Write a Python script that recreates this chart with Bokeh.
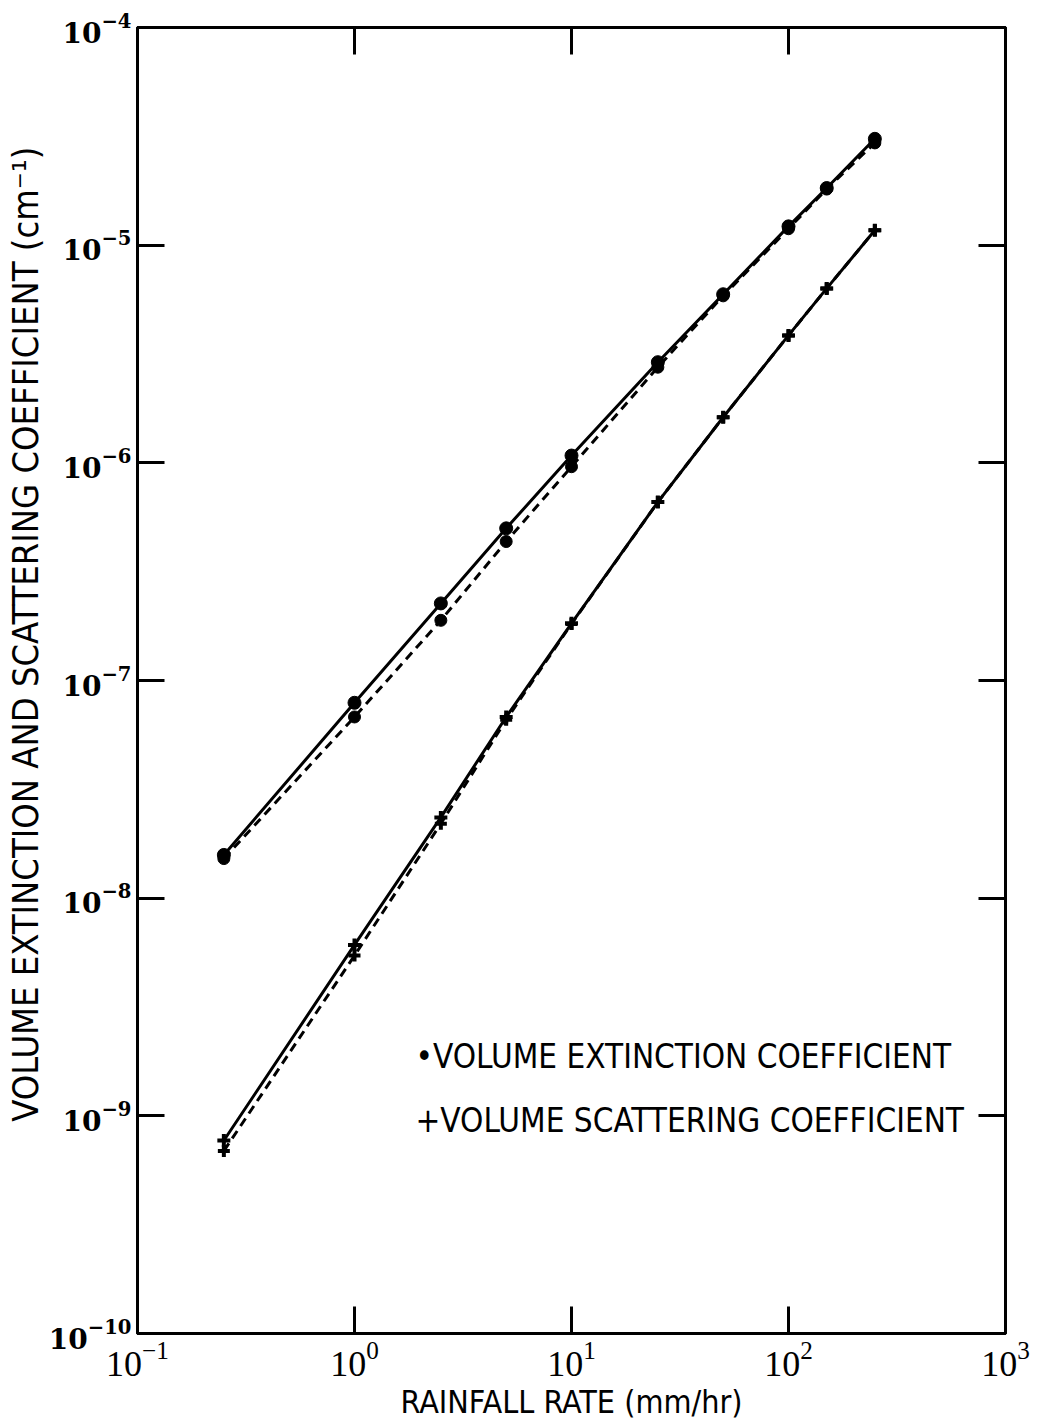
import math
from bokeh.plotting import figure
from bokeh.models import LogAxis, FixedTicker, Label, LogTickFormatter
from bokeh.embed import file_html
from bokeh.resources import INLINE

# ---- data ----
rain = [0.25, 1, 2.5, 5, 10, 25, 50, 100, 150, 250]
ext_solid = [1.58e-8, 7.9e-8, 2.26e-7, 5.0e-7, 1.08e-6, 2.9e-6, 5.95e-6, 1.22e-5, 1.83e-5, 3.08e-5]
ext_dashed = [1.52e-8, 6.8e-8, 1.89e-7, 4.35e-7, 9.6e-7, 2.75e-6, 5.85e-6, 1.19e-5, 1.81e-5, 2.95e-5]
sca_solid = [7.7e-10, 6.1e-9, 2.35e-8, 6.8e-8, 1.83e-7, 6.6e-7, 1.62e-6, 3.85e-6, 6.33e-6, 1.17e-5]
sca_dashed = [6.9e-10, 5.45e-9, 2.2e-8, 6.6e-8, 1.82e-7, 6.6e-7, 1.62e-6, 3.85e-6, 6.33e-6, 1.17e-5]

x_ticks = [0.1, 1, 10, 100, 1000]
y_ticks = [1e-10, 1e-9, 1e-8, 1e-7, 1e-6, 1e-5, 1e-4]

x_title = "RAINFALL RATE (mm/hr)"
y_title = "\u00a0" * 9 + "VOLUME EXTINCTION AND SCATTERING COEFFICIENT (cm\u207b\u00b9)"
legend_ext = "\u2022VOLUME EXTINCTION COEFFICIENT"
legend_sca = "+VOLUME SCATTERING COEFFICIENT"

NARROW = "'Liberation Sans Narrow', 'DejaVu Sans Condensed', 'Liberation Sans', sans-serif"

p = figure(width=1035, height=1425, x_axis_type="log", y_axis_type="log",
           x_range=(0.1, 1000), y_range=(1e-10, 1e-4),
           output_backend="svg", toolbar_location=None,
           min_border_left=137, min_border_right=30, min_border_top=27, min_border_bottom=92)

p.grid.visible = False
p.outline_line_color = "black"
p.outline_line_width = 3
p.background_fill_color = "white"
p.border_fill_color = "white"

bottom = p.below[0]
left = p.left[0]
top = LogAxis()
right = LogAxis()
p.add_layout(top, "above")
p.add_layout(right, "right")

for ax in [bottom, top]:
    ax.ticker = FixedTicker(ticks=x_ticks)
for ax in [left, right]:
    ax.ticker = FixedTicker(ticks=y_ticks)

for ax in [bottom, top, left, right]:
    ax.major_tick_in = 27
    ax.major_tick_out = 0
    ax.minor_tick_in = 0
    ax.minor_tick_out = 0
    ax.major_tick_line_width = 3
    ax.major_tick_line_color = "black"
    ax.axis_line_width = 3
    ax.axis_line_color = "black"
    ax.formatter = LogTickFormatter(min_exponent=0)

for ax in [top, right]:
    ax.major_label_text_font_size = "2px"
    ax.major_label_text_alpha = 0
    ax.major_label_standoff = 0

left.major_label_text_font = "DejaVu Serif"
left.major_label_text_font_style = "bold"
left.major_label_text_font_size = "28px"
left.major_label_text_color = "black"
left.major_label_standoff = 6
left.axis_label = y_title
left.axis_label_text_font = NARROW
left.axis_label_text_font_size = "36px"
left.axis_label_text_font_style = "normal"
left.axis_label_text_color = "black"
left.axis_label_standoff = 0

bottom.major_label_text_font = "Liberation Serif"
bottom.major_label_text_font_size = "36px"
bottom.major_label_text_color = "black"
bottom.major_label_standoff = 8
bottom.axis_label = x_title
bottom.axis_label_text_font = NARROW
bottom.axis_label_text_font_size = "32px"
bottom.axis_label_text_font_style = "normal"
bottom.axis_label_text_color = "black"
bottom.axis_label_standoff = 4

# ---- series ----
p.line(rain, ext_solid, line_color="black", line_width=3)
p.line(rain, ext_dashed, line_color="black", line_width=3, line_dash="9 6")
p.scatter(rain, ext_solid, marker="circle", size=13, color="black")
p.scatter(rain, ext_dashed, marker="circle", size=12, color="black")

p.line(rain, sca_solid, line_color="black", line_width=3)
p.line(rain, sca_dashed, line_color="black", line_width=3, line_dash="9 6")
p.scatter(rain, sca_solid, marker="cross", size=13, line_color="black", line_width=4)
p.scatter(rain, sca_dashed, marker="cross", size=12, line_color="black", line_width=4)

# ---- legend texts ----
p.add_layout(Label(x=10 ** 0.281, y=10 ** (-8.727), text=legend_ext,
                   text_align="left", text_baseline="middle",
                   text_font=NARROW, text_font_size="33px", text_color="black"))
p.add_layout(Label(x=10 ** 0.281, y=10 ** (-9.021), text=legend_sca,
                   text_align="left", text_baseline="middle",
                   text_font=NARROW, text_font_size="33px", text_color="black"))

open("out.html", "w").write(file_html(p, INLINE))
